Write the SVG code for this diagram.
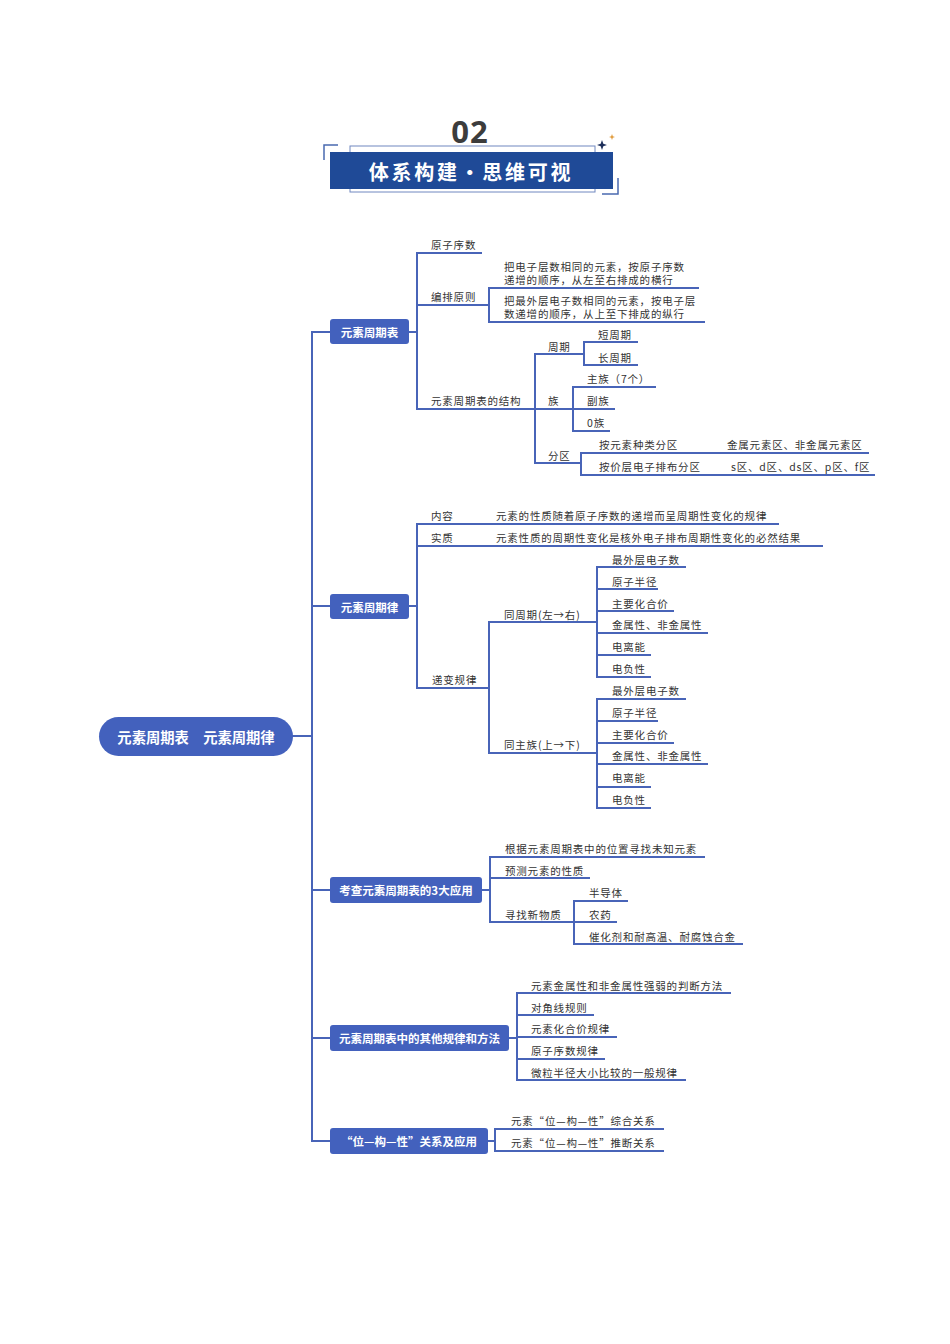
<svg xmlns="http://www.w3.org/2000/svg" width="950" height="1344" viewBox="0 0 950 1344">
<style>
.ln{stroke:#4864b8;stroke-width:2;fill:none;stroke-linecap:square}
.t{font-family:"Noto Sans CJK SC","Noto Sans",sans-serif;font-size:10.5px;letter-spacing:0.8px;fill:#333;dominant-baseline:central}
.bx{fill:#4361bd}
.bt{font-family:"Noto Sans CJK SC",sans-serif;font-weight:bold;font-size:11.5px;fill:#fff;text-anchor:middle;dominant-baseline:central}
</style>
<rect width="950" height="1344" fill="#fff"/>
<g id="header">
<text x="470" y="143" text-anchor="middle" font-family="'Open Sans','Noto Sans',sans-serif" font-weight="bold" font-size="31" fill="#3c3c3c" letter-spacing="1">02</text>
<rect x="350" y="146" width="245" height="46" fill="none" stroke="#7088c0" stroke-width="1"/>
<rect x="330" y="152" width="283" height="37" fill="#1f4a97"/>
<path d="M324,160 V145 H338" fill="none" stroke="#4a6ab0" stroke-width="1.5"/>
<path d="M618,178 V194 H602" fill="none" stroke="#4a6ab0" stroke-width="1.5"/>
<path d="M602,140 L603.3,143.7 L607,145 L603.3,146.3 L602,150 L600.7,146.3 L597,145 L600.7,143.7 Z" fill="#1d2f5a"/>
<path d="M612,134 L612.8,136.2 L615,137 L612.8,137.8 L612,140 L611.2,137.8 L609,137 L611.2,136.2 Z" fill="#e09a3a"/>
<text x="471" y="171.5" text-anchor="middle" dominant-baseline="central" font-family="'Noto Sans CJK SC',sans-serif" font-weight="bold" font-size="20" letter-spacing="2.7" fill="#fff">体系构建・思维可视</text>
</g>
<g id="connectors">
<path class="ln" d="M293,736 H312 M312,332 V1141 M312,332 H330 M312,606 H330 M312,890 H330 M312,1038 H330 M312,1141 H330"/>
<path class="ln" d="M409,332 H417 M417,253 V409 M489,288 V322 M535,354 V463 M584,342 V365 M573,387 V431 M581,453 V475"/>
<path class="ln" d="M409,606 H417 M417,524 V688 M489,622 V753 M597,567 V677 M597,699 V808"/>
<path class="ln" d="M482,890 H490 M490,857 V922 M574,901 V944"/>
<path class="ln" d="M509,1038 H517 M517,993 V1080"/>
<path class="ln" d="M488,1141 H495 M495,1129 V1151"/>
</g>
<g id="root">
<rect x="99" y="717" width="194" height="39" rx="19.5" fill="#4361bd"/>
<text x="196" y="736.5" text-anchor="middle" dominant-baseline="central" font-family="'Noto Sans CJK SC',sans-serif" font-weight="bold" font-size="14.3" fill="#fff">元素周期表　元素周期律</text>
</g>
<g id="b1"><rect class="bx" x="330" y="319" width="79" height="25" rx="3"/><text class="bt" x="369.5" y="332">元素周期表</text></g>
<g id="b2"><rect class="bx" x="330" y="594" width="79" height="25" rx="3"/><text class="bt" x="369.5" y="606.5">元素周期律</text></g>
<g id="b3"><rect class="bx" x="330" y="877" width="152" height="26" rx="3"/><text class="bt" x="406" y="890">考查元素周期表的3大应用</text></g>
<g id="b4"><rect class="bx" x="330" y="1025" width="179" height="26" rx="3"/><text class="bt" x="419.5" y="1038">元素周期表中的其他规律和方法</text></g>
<g id="b5"><rect class="bx" x="330" y="1128" width="158" height="26" rx="3"/><text class="bt" x="409" y="1141">“位—构—性”关系及应用</text></g>

<g id="n-yzxs"><text class="t" x="431" y="244">原子序数</text><path class="ln" d="M417,253 H481"/></g>
<g id="n-bpyz"><text class="t" x="431" y="296">编排原则</text><path class="ln" d="M417,305 H489"/></g>
<g id="n-rule1"><text class="t" x="504" y="266">把电子层数相同的元素，按原子序数</text><text class="t" x="504" y="279">递增的顺序，从左至右排成的横行</text><path class="ln" d="M489,288 H698"/></g>
<g id="n-rule2"><text class="t" x="504" y="300">把最外层电子数相同的元素，按电子层</text><text class="t" x="504" y="313">数递增的顺序，从上至下排成的纵行</text><path class="ln" d="M489,322 H704"/></g>
<g id="n-jg"><text class="t" x="431" y="400">元素周期表的结构</text><path class="ln" d="M417,409 H535"/></g>
<g id="n-zq"><text class="t" x="548" y="346">周期</text><path class="ln" d="M535,354 H584"/></g>
<g id="n-dzq"><text class="t" x="598" y="334">短周期</text><path class="ln" d="M584,342 H637"/></g>
<g id="n-czq"><text class="t" x="598" y="357">长周期</text><path class="ln" d="M584,365 H637"/></g>
<g id="n-zu"><text class="t" x="548" y="400">族</text><path class="ln" d="M535,409 H573"/></g>
<g id="n-zhuzu"><text class="t" x="587" y="378">主族（7个）</text><path class="ln" d="M573,387 H655"/></g>
<g id="n-fuzu"><text class="t" x="587" y="400">副族</text><path class="ln" d="M573,409 H614"/></g>
<g id="n-0zu"><text class="t" x="587" y="422">0族</text><path class="ln" d="M573,431 H609"/></g>
<g id="n-fq"><text class="t" x="548" y="455">分区</text><path class="ln" d="M535,463 H581"/></g>
<g id="n-fq1"><text class="t" x="599" y="444">按元素种类分区</text><text class="t" x="727" y="444">金属元素区、非金属元素区</text><path class="ln" d="M581,453 H868"/></g>
<g id="n-fq2"><text class="t" x="599" y="466">按价层电子排布分区</text><text class="t" x="731" y="466">s区、d区、ds区、p区、f区</text><path class="ln" d="M581,475 H874"/></g>

<g id="n-nr"><text class="t" x="431" y="515">内容</text><text class="t" x="496" y="515">元素的性质随着原子序数的递增而呈周期性变化的规律</text><path class="ln" d="M417,524 H778"/></g>
<g id="n-sz"><text class="t" x="431" y="537">实质</text><text class="t" x="496" y="537">元素性质的周期性变化是核外电子排布周期性变化的必然结果</text><path class="ln" d="M417,546 H822"/></g>
<g id="n-dbgl"><text class="t" x="432" y="679">递变规律</text><path class="ln" d="M417,688 H489"/></g>
<g id="n-tzq"><text class="t" x="504" y="614">同周期(左→右)</text><path class="ln" d="M489,622 H597"/></g>
<g id="n-a1"><text class="t" x="612" y="559">最外层电子数</text><path class="ln" d="M597,567 H685"/></g>
<g id="n-a2"><text class="t" x="612" y="581">原子半径</text><path class="ln" d="M597,589 H657"/></g>
<g id="n-a3"><text class="t" x="612" y="603">主要化合价</text><path class="ln" d="M597,611 H673"/></g>
<g id="n-a4"><text class="t" x="612" y="624">金属性、非金属性</text><path class="ln" d="M597,633 H707"/></g>
<g id="n-a5"><text class="t" x="612" y="646">电离能</text><path class="ln" d="M597,655 H650"/></g>
<g id="n-a6"><text class="t" x="612" y="668">电负性</text><path class="ln" d="M597,677 H650"/></g>
<g id="n-tzz"><text class="t" x="504" y="744">同主族(上→下)</text><path class="ln" d="M489,753 H597"/></g>
<g id="n-c1"><text class="t" x="612" y="690">最外层电子数</text><path class="ln" d="M597,699 H685"/></g>
<g id="n-c2"><text class="t" x="612" y="712">原子半径</text><path class="ln" d="M597,721 H657"/></g>
<g id="n-c3"><text class="t" x="612" y="734">主要化合价</text><path class="ln" d="M597,743 H673"/></g>
<g id="n-c4"><text class="t" x="612" y="755">金属性、非金属性</text><path class="ln" d="M597,764 H707"/></g>
<g id="n-c5"><text class="t" x="612" y="777">电离能</text><path class="ln" d="M597,787 H650"/></g>
<g id="n-c6"><text class="t" x="612" y="799">电负性</text><path class="ln" d="M597,808 H650"/></g>

<g id="n-s31"><text class="t" x="505" y="848">根据元素周期表中的位置寻找未知元素</text><path class="ln" d="M490,857 H704"/></g>
<g id="n-s32"><text class="t" x="505" y="870">预测元素的性质</text><path class="ln" d="M490,878 H589"/></g>
<g id="n-s33"><text class="t" x="505" y="914">寻找新物质</text><path class="ln" d="M490,922 H574"/></g>
<g id="n-s331"><text class="t" x="589" y="892">半导体</text><path class="ln" d="M574,901 H627"/></g>
<g id="n-s332"><text class="t" x="589" y="914">农药</text><path class="ln" d="M574,922 H616"/></g>
<g id="n-s333"><text class="t" x="589" y="936">催化剂和耐高温、耐腐蚀合金</text><path class="ln" d="M574,944 H742"/></g>

<g id="n-s41"><text class="t" x="531" y="985">元素金属性和非金属性强弱的判断方法</text><path class="ln" d="M517,993 H730"/></g>
<g id="n-s42"><text class="t" x="531" y="1007">对角线规则</text><path class="ln" d="M517,1015 H593"/></g>
<g id="n-s43"><text class="t" x="531" y="1028">元素化合价规律</text><path class="ln" d="M517,1037 H616"/></g>
<g id="n-s44"><text class="t" x="531" y="1050">原子序数规律</text><path class="ln" d="M517,1059 H604"/></g>
<g id="n-s45"><text class="t" x="531" y="1072">微粒半径大小比较的一般规律</text><path class="ln" d="M517,1080 H685"/></g>

<g id="n-s51"><text class="t" x="511" y="1120">元素“位—构—性”综合关系</text><path class="ln" d="M495,1129 H663"/></g>
<g id="n-s52"><text class="t" x="511" y="1142">元素“位—构—性”推断关系</text><path class="ln" d="M495,1151 H663"/></g>
</svg>
